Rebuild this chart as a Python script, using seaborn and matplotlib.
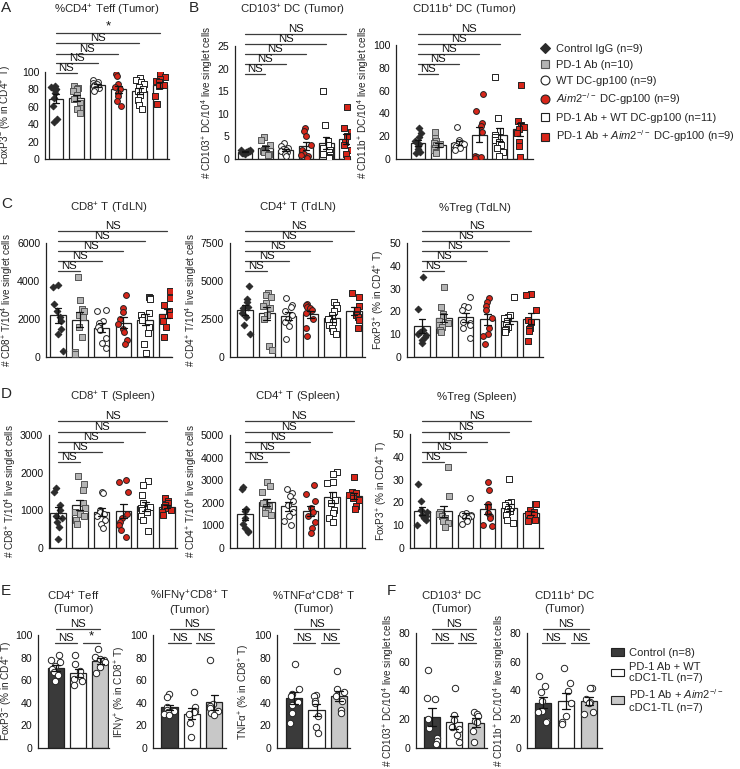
import numpy as np
import pandas as pd
import matplotlib
matplotlib.use("Agg")
import matplotlib.pyplot as plt
import seaborn as sns
from matplotlib.transforms import blended_transform_factory
from matplotlib.lines import Line2D
from matplotlib.patches import Patch

sns.set_style("white")
plt.rcParams["font.family"] = ["Liberation Sans", "DejaVu Sans"]
plt.rcParams["mathtext.fontset"] = "custom"
plt.rcParams["mathtext.rm"] = "Liberation Sans"
plt.rcParams["mathtext.it"] = "Liberation Sans:italic"
plt.rcParams["mathtext.bf"] = "Liberation Sans:bold"

# ---------------- data ----------------
groups6 = ["Control IgG", "PD-1 Ab", "WT DC-gp100", "Aim2 DC-gp100",
           "PD-1 Ab + WT DC-gp100", "PD-1 Ab + Aim2 DC-gp100"]
legend6 = ["Control IgG (n=9)", "PD-1 Ab (n=10)", "WT DC-gp100 (n=9)",
           r"$\mathit{Aim2}^{-/-}$ DC-gp100 (n=9)", "PD-1 Ab + WT DC-gp100 (n=11)",
           r"PD-1 Ab + $\mathit{Aim2}^{-/-}$ DC-gp100 (n=9)"]
groups3 = ["Control", "PD-1 Ab + WT cDC1-TL", "PD-1 Ab + Aim2 cDC1-TL"]
legend3 = ["Control (n=8)", "PD-1 Ab + WT\ncDC1-TL (n=7)",
           "PD-1 Ab + $\\mathit{Aim2}^{-/-}$\ncDC1-TL (n=7)"]

a_teff = [[84, 83, 81, 79, 76, 70, 61, 46, 43],
          [84, 82, 81, 78, 73, 69, 64, 59, 57, 53],
          [91, 89, 87, 86, 85, 84, 82, 80, 78],
          [98, 95, 86, 83, 81, 76, 72, 67, 61],
          [93, 91, 89, 86, 83, 81, 78, 74, 68, 62, 57],
          [99, 94, 92, 90, 88, 85, 84, 72, 63]]
b_cd103 = [[2.0, 1.9, 1.8, 1.7, 1.6, 1.5, 1.4, 1.3, 1.2],
           [4.8, 4.2, 3.0, 2.5, 2.2, 2.0, 1.8, 1.5, 1.2, 0.8],
           [3.5, 2.8, 2.5, 2.2, 2.0, 1.8, 1.5, 1.0, 0.7],
           [6.8, 6.3, 5.0, 3.2, 2.0, 1.0, 0.8, 0.6, 0.3],
           [15.1, 7.6, 4.0, 3.0, 2.5, 2.0, 1.6, 1.2, 0.8, 0.5, 0.3],
           [11.4, 6.8, 6.0, 5.0, 3.8, 3.0, 2.0, 1.2, 0.1]]
b_cd11b = [[27, 23, 19, 16, 13, 11, 9, 6, 5],
           [24, 18, 16, 14, 13, 12, 10, 8, 6, 5],
           [28, 17, 15, 14, 13, 12, 11, 10, 8],
           [57, 42, 32, 29, 24, 3, 2, 2, 1],
           [72, 36, 25, 21, 19, 17, 15, 12, 10, 6, 3],
           [65, 33, 30, 28, 26, 23, 15, 11, 2]]
c_cd8 = [[3800, 3700, 2800, 2400, 2100, 1900, 1500, 1200, 300],
         [4200, 3000, 2550, 2400, 2200, 2100, 1600, 1050, 260, 170],
         [2500, 2400, 1900, 1800, 1600, 1400, 1000, 750, 500],
         [3250, 2600, 2350, 2000, 1750, 1500, 1300, 900, 680],
         [3150, 3100, 3050, 2300, 2200, 2100, 1950, 1600, 1250, 700, 200],
         [3450, 3100, 2750, 2400, 2200, 2100, 1900, 1600, 1050]]
c_cd4 = [[4700, 3800, 3600, 3300, 3200, 2900, 2600, 2100, 1500],
         [4200, 4080, 3970, 3530, 3350, 3200, 2750, 2530, 730, 440],
         [3850, 3400, 3300, 3000, 2750, 2530, 2300, 2020, 1210],
         [3500, 3450, 3300, 3200, 3100, 2900, 2500, 1900, 1400],
         [3630, 3400, 3200, 3000, 2750, 2500, 2300, 2100, 1900, 1700, 1500],
         [4230, 3970, 3350, 3080, 2860, 2750, 2600, 2460, 1940]]
c_treg = [[35, 21, 12, 11, 10, 9.5, 8.8, 7.4, 6],
          [30.5, 22, 19, 18, 16, 15, 14, 13, 12, 11],
          [26.2, 22.4, 21.8, 20.6, 15.4, 14.7, 14, 12.9, 8.5],
          [26, 24.3, 22.5, 20.6, 17.2, 12.9, 10, 9, 5.9],
          [26.5, 18.4, 17.4, 16.9, 15.9, 14.7, 14, 13.2, 12.5, 11.8, 11],
          [27.6, 27.2, 20.6, 16.2, 15.4, 12.9, 12.5, 11.5, 7]]
d_cd8 = [[1600, 1500, 1150, 1000, 850, 800, 700, 550, 250],
         [1900, 1700, 1550, 1200, 1050, 950, 900, 850, 750, 650],
         [1480, 1450, 1000, 950, 900, 850, 750, 650, 520],
         [1800, 1750, 1500, 900, 800, 700, 600, 480, 300],
         [1780, 1680, 1400, 1200, 1100, 1050, 1000, 950, 850, 750, 450],
         [1320, 1250, 1200, 1150, 1100, 1050, 1000, 950, 880]]
d_cd4 = [[2680, 2600, 1730, 1620, 1320, 1060, 880, 760, 700],
         [2900, 2750, 2500, 2000, 1850, 1800, 1700, 1650, 1550, 1450],
         [2600, 2450, 2300, 2100, 1900, 1600, 1400, 1200, 1000],
         [2800, 2400, 2100, 1750, 1600, 1400, 1150, 900, 650],
         [3380, 3260, 2940, 2870, 2350, 2130, 1985, 1690, 1540, 1320, 1150],
         [3120, 2500, 2430, 2350, 2280, 2200, 2130, 1840, 1730]]
d_treg = [[28.2, 20.5, 16.8, 16, 14.6, 13.9, 13.2, 12.4, 10.2],
          [35.4, 23, 16, 15, 14, 13, 12.5, 12, 11, 9],
          [21.9, 15.5, 15, 14.5, 14, 13.5, 13, 12, 10.5],
          [29, 25.6, 19.3, 18, 15.4, 13.9, 13.2, 10.2, 9.5],
          [30.3, 20.2, 19.7, 18.7, 17.8, 17.3, 16.4, 15.8, 14.6, 12.4, 11],
          [19.4, 19.4, 16.8, 15.8, 14.9, 14.6, 13.2, 12.4, 12]]
e_teff = [[82, 78, 76, 73, 70, 67, 64.5, 59],
          [82, 74, 68, 64, 61, 59, 56],
          [87.5, 80.7, 79, 78, 76, 72, 66]]
e_ifng = [[48, 45, 36, 34, 33, 32, 30, 29],
          [50, 36, 33, 32, 30, 22, 10],
          [78, 39, 37, 35, 33, 31, 29]]
e_tnfa = [[74, 52, 48, 46, 41, 38, 31, 22],
          [47, 46, 42, 40, 28, 19, 13],
          [68, 52, 50, 46, 42, 34, 31]]
f_cd103 = [[54, 35, 34, 20, 14, 7, 5, 3],
           [42, 22.8, 19.3, 14.7, 13.5, 8.9, 4.2],
           [25, 24, 22, 19, 18, 12, 4]]
f_cd11b = [[50, 43, 39, 33, 26, 25, 19, 18],
           [56, 45, 40, 31, 22, 18, 17],
           [42, 42, 34, 32, 31, 25, 24]]

sig6_A = ["NS", "NS", "NS", "NS", "*"]
sig6_NS = ["NS"] * 5
sig3_E1 = ["NS", "NS", "*"]
sig3_NS = ["NS", "NS", "NS"]

# ---------------- styles ----------------
RED = "#d8261a"
mk6 = [dict(marker="D", color="#2b2b2b", edgecolor="#2b2b2b", size=3.4),
       dict(marker="s", color="#b4b4b4", edgecolor="#555555", size=4.0),
       dict(marker="o", color="white", edgecolor="#222222", size=4.2),
       dict(marker="o", color=RED, edgecolor="#222222", size=4.2),
       dict(marker="s", color="white", edgecolor="#222222", size=4.0),
       dict(marker="s", color=RED, edgecolor="#222222", size=4.0)]
bar6 = ["white"] * 6
bar3 = ["#3a3a3a", "white", "#c8c8c8"]
mk3 = [dict(marker="o", color="white", edgecolor="#222222", size=4.6)] * 3

W, H = 740, 769
fig = plt.figure(figsize=(W / 100, H / 100), dpi=100)
INK = "#222222"
FS_T = 8.2
FS_TICK = 7.6
FS_LAB = 7.2
FS_SIG = 8.2


def fy(ypx):
    return 1 - ypx / H


def add_ax(l, r, t, b):
    return fig.add_axes([l / W, 1 - b / H, (r - l) / W, (b - t) / H])


def draw_panel(lay, values, groups, bar_colors, markers, ymax, ystep, ylabel,
               title, title_y, sig, sig_y, three=False, ylab_x=None):
    l, r, t, b, c0, s = lay
    ax = add_ax(l, r, t, b)
    rows = []
    for g, vals in zip(groups, values):
        for v in vals:
            rows.append((g, v))
    df = pd.DataFrame(rows, columns=["group", "value"])
    sns.barplot(data=df, x="group", y="value", order=groups, hue="group",
                hue_order=groups, palette=bar_colors, legend=False,
                errorbar="se", capsize=0.32, width=0.72,
                edgecolor=INK, linewidth=0.9,
                err_kws={"color": "#111111", "linewidth": 0.9}, ax=ax)
    for p in ax.patches:
        p.set_zorder(1)
    for ln in ax.lines:
        ln.set_zorder(5)
    for g, m in zip(groups, markers):
        sub = df[df["group"] == g]
        sns.stripplot(data=sub, x="group", y="value", order=groups,
                      marker=m["marker"], color=m["color"],
                      edgecolor=m["edgecolor"], linewidth=0.7,
                      size=m["size"], jitter=0.24, zorder=3, ax=ax)
    ax.set_xlim(-(c0 - l) / s, (r - c0) / s)
    ax.set_ylim(0, ymax)
    ticks = np.arange(0, ymax + ystep / 2, ystep)
    ax.set_yticks(ticks)
    ax.set_yticklabels([f"{int(v)}" for v in ticks])
    ax.set_xticks([])
    ax.set_xlabel("")
    ax.set_ylabel(ylabel, fontsize=FS_LAB, labelpad=1.5)
    if ylab_x is not None:
        ax.yaxis.set_label_coords((ylab_x - l) / (r - l), 0.5)
    for sp in ["top", "right"]:
        ax.spines[sp].set_visible(False)
    for sp in ["left", "bottom"]:
        ax.spines[sp].set_color(INK)
        ax.spines[sp].set_linewidth(0.9)
    ax.tick_params(axis="y", length=3, width=0.9, color=INK, labelsize=FS_TICK,
                   pad=1.2, labelcolor="#111111")
    ax.patch.set_alpha(0)
    xc = (l + r) / 2 / W
    fig.text(xc, fy(title_y), title, ha="center", va="center", fontsize=FS_T)
    tr = blended_transform_factory(ax.transData, fig.transFigure)
    if not three:
        spans = [(0, k + 1, yp) for k, yp in enumerate(sig_y)]
    else:
        top_y, low_y = sig_y
        spans = [(0, 2, top_y), (-0.05, 0.95, low_y), (1.2, 2.0, low_y)]
    for (x0, x1, yp), lab in zip(spans, sig):
        ax.plot([x0, x1], [fy(yp)] * 2, color="#3c3c3c", lw=0.9,
                transform=tr, clip_on=False)
        ax.text((x0 + x1) / 2, fy(yp - 0.3), lab, ha="center", va="bottom",
                fontsize=FS_SIG + (1.5 if lab == "*" else 0), transform=tr,
                color="#111111")
    return ax


np.random.seed(2)
yl_foxm = "FoxP3$^{-}$ (% in CD4$^{+}$ T)"
yl_foxp = "FoxP3$^{+}$ (% in CD4$^{+}$ T)"
yl_103 = "# CD103$^{+}$ DC/10$^{4}$ live singlet cells"
yl_11b = "# CD11b$^{+}$ DC/10$^{4}$ live singlet cells"
yl_cd8 = "# CD8$^{+}$ T/10$^{4}$ live singlet cells"
yl_cd4 = "# CD4$^{+}$ T/10$^{4}$ live singlet cells"

sigA = [73, 63, 54, 43, 33]
sigB = [74, 64, 54, 44, 34]
sigC = [271, 261, 251, 241, 231]
sigD = [462, 452, 442, 432, 421]
sigEF = (629, 643)

draw_panel((45, 169, 72, 159, 56, 20.8), a_teff, groups6, bar6, mk6, 100, 20,
           yl_foxm, "%CD4$^{+}$ Teff (Tumor)", 10, sig6_A, sigA, ylab_x=14)
draw_panel((235, 350, 46, 159, 245, 20.3), b_cd103, groups6, bar6, mk6, 25, 5,
           yl_103, "CD103$^{+}$ DC (Tumor)", 10, sig6_NS, sigB)
draw_panel((396, 533, 45, 159, 418, 20.4), b_cd11b, groups6, bar6, mk6, 100, 20,
           yl_11b, "CD11b$^{+}$ DC (Tumor)", 10, sig6_NS, sigB)

draw_panel((46, 172, 243, 357, 58, 21.8), c_cd8, groups6, bar6, mk6, 6000, 2000,
           yl_cd8, "CD8$^{+}$ T (TdLN)", 208, sig6_NS, sigC)
draw_panel((230, 365, 243, 357, 245, 21.8), c_cd4, groups6, bar6, mk6, 7500, 2500,
           yl_cd4, "CD4$^{+}$ T (TdLN)", 208, sig6_NS, sigC)
draw_panel((407, 543, 243, 357, 422, 21.8), c_treg, groups6, bar6, mk6, 50, 10,
           yl_foxp, "%Treg (TdLN)", 208, sig6_NS, sigC)

draw_panel((49, 177, 435, 548, 58, 21.8), d_cd8, groups6, bar6, mk6, 3000, 1000,
           yl_cd8, "CD8$^{+}$ T (Spleen)", 397, sig6_NS, sigD)
draw_panel((230, 365, 435, 548, 245, 21.8), d_cd4, groups6, bar6, mk6, 5000, 1000,
           yl_cd4, "CD4$^{+}$ T (Spleen)", 397, sig6_NS, sigD)
draw_panel((410, 543, 434, 548, 422, 21.8), d_treg, groups6, bar6, mk6, 50, 10,
           yl_foxp, "%Treg (Spleen)", 397, sig6_NS, sigD)

draw_panel((38, 109, 635, 748, 56, 22.2), e_teff, groups3, bar3, mk3, 100, 20,
           yl_foxm, "CD4$^{+}$ Teff\n(Tumor)", 602, sig3_E1, sigEF, three=True,
           ylab_x=15)
draw_panel((153, 226, 635, 748, 169.5, 22.3), e_ifng, groups3, bar3, mk3, 100, 20,
           "IFNγ$^{+}$ (% in CD8$^{+}$ T)", "%IFNγ$^{+}$CD8$^{+}$ T\n(Tumor)", 602,
           sig3_NS, sigEF, three=True)
draw_panel((277, 350, 635, 748, 294, 22.5), e_tnfa, groups3, bar3, mk3, 100, 20,
           "TNFα$^{+}$ (% in CD8$^{+}$ T)", "%TNFα$^{+}$CD8$^{+}$ T\n(Tumor)", 602,
           sig3_NS, sigEF, three=True)
draw_panel((416, 487, 633, 748, 432, 22.0), f_cd103, groups3, bar3, mk3, 80, 20,
           yl_103, "CD103$^{+}$ DC\n(Tumor)", 602, sig3_NS, sigEF, three=True)
draw_panel((527, 602, 633, 748, 543, 23.0), f_cd11b, groups3, bar3, mk3, 80, 20,
           yl_11b, "CD11b$^{+}$ DC\n(Tumor)", 602, sig3_NS, sigEF, three=True)

# panel letters
for letter, x, y in [("A", 1, 1), ("B", 189, 1), ("C", 1, 197), ("D", 1, 387),
                     ("E", 1, 584), ("F", 387, 584)]:
    fig.text(x / W, fy(y), letter, ha="left", va="top", fontsize=11)

# legend A/B
h6 = []
for m in mk6:
    h6.append(Line2D([], [], ls="none", marker=m["marker"],
                     markerfacecolor=m["color"], markeredgecolor=m["edgecolor"],
                     markeredgewidth=0.8, markersize=m["size"] + 2.2))
fig.legend(h6, legend6, loc="upper left", bbox_to_anchor=(540 / W, fy(44)),
           frameon=False, fontsize=8, handlelength=0.9, handletextpad=0.5,
           labelspacing=0.52, borderpad=0, borderaxespad=0)

# legend F
h3 = [Patch(facecolor=c, edgecolor=INK, linewidth=0.8) for c in bar3]
fig.legend(h3, legend3, loc="upper left", bbox_to_anchor=(611 / W, fy(648)),
           frameon=False, fontsize=8, handlelength=1.2, handleheight=0.65,
           handletextpad=0.4, labelspacing=0.35, borderpad=0, borderaxespad=0)

fig.savefig("out.png", dpi=100)
